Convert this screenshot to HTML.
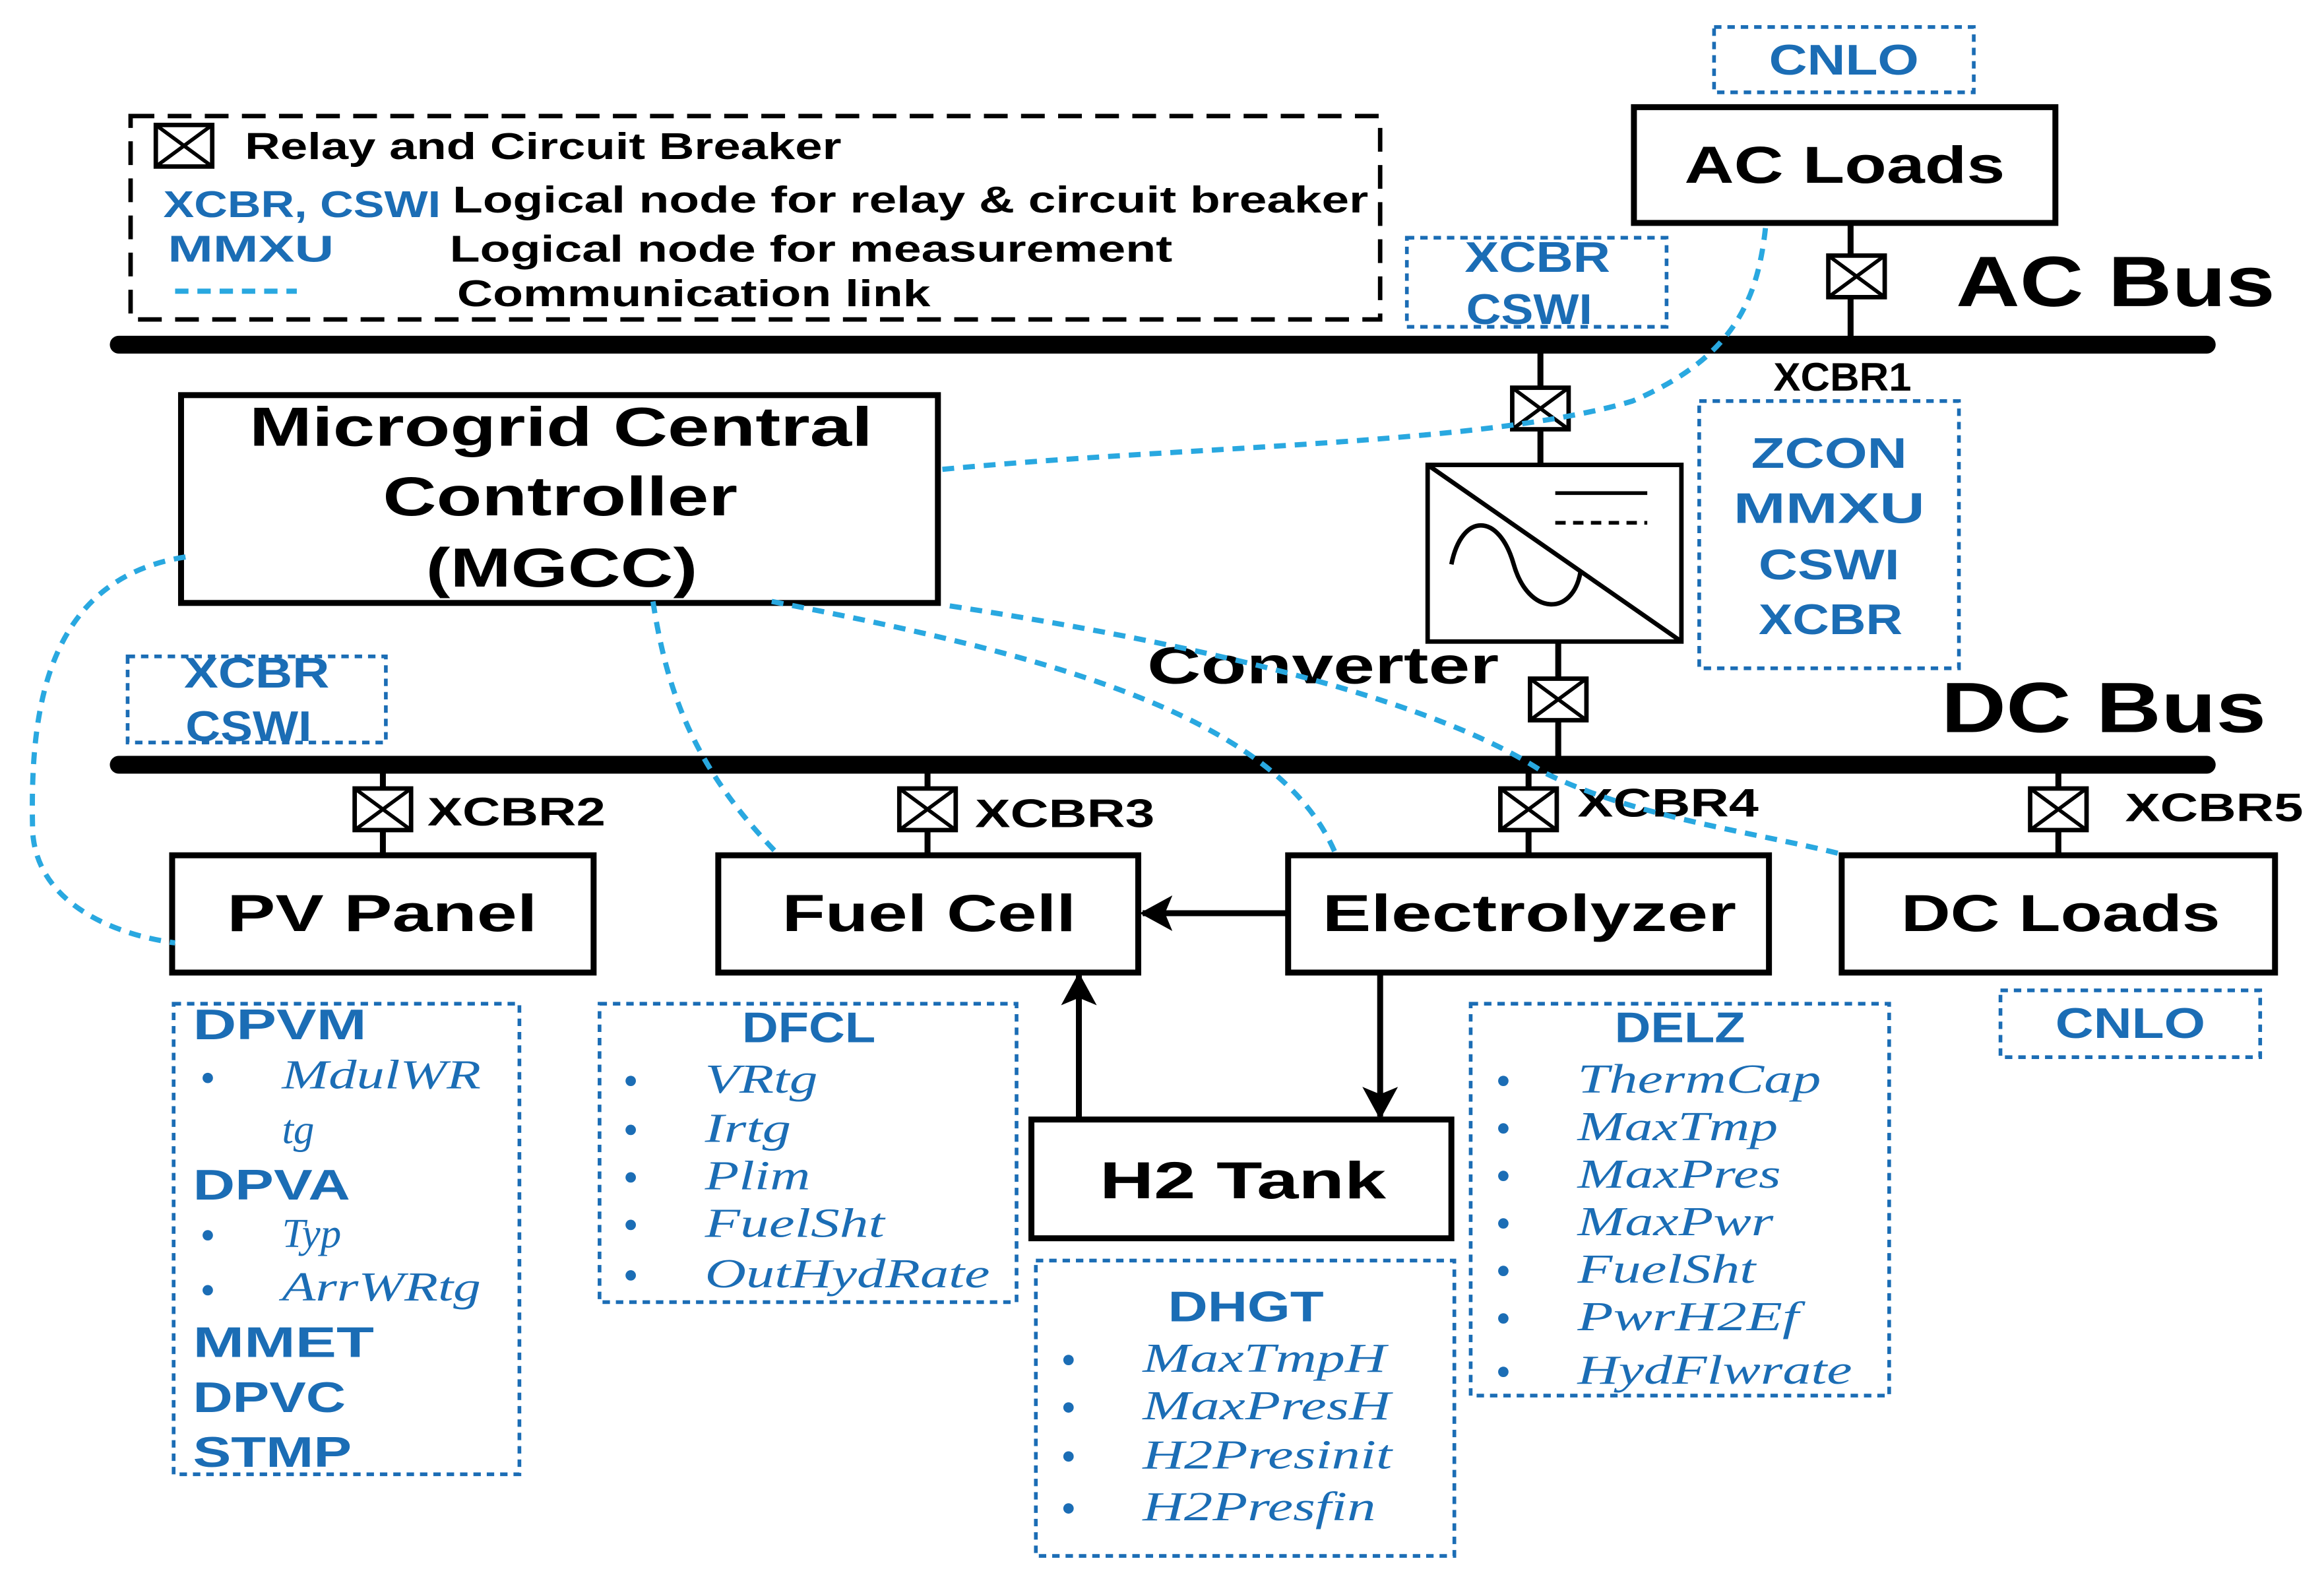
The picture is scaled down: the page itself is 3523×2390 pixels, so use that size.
<!DOCTYPE html>
<html><head><meta charset="utf-8"><style>
html,body{margin:0;padding:0;background:#fff;}
svg{display:block;}
text{font-family:"Liberation Sans",sans-serif;font-weight:bold;}
text.b,.b text{fill:#1b6db5;}
.it text{fill:#1b6db5;font-family:"Liberation Serif",serif;font-style:italic;font-weight:normal;}
</style></head><body>
<svg width="3523" height="2390" viewBox="0 0 1566 1062" xmlns="http://www.w3.org/2000/svg">
<defs>
<g id="brk"><rect x="-19" y="-14" width="38" height="28" fill="#fff" stroke="#000" stroke-width="3"/><path d="M-19 -14L19 14M19 -14L-19 14" stroke="#000" stroke-width="2.5"/></g>
<marker id="ah" markerWidth="22" markerHeight="24" refX="20" refY="12" orient="auto" markerUnits="userSpaceOnUse"><path d="M0 0L22 12L0 24L5 12Z"/></marker>
</defs>
<rect width="1566" height="1062" fill="#fff"/>
<!-- legend -->
<rect x="88" y="78" width="842" height="137" fill="none" stroke="#000" stroke-width="3" stroke-dasharray="16 9"/>
<use href="#brk" x="124" y="98"/>
<text x="165" y="107" font-size="25" textLength="402" lengthAdjust="spacingAndGlyphs">Relay and Circuit Breaker</text>
<text x="110" y="146" font-size="25" class="b" textLength="187" lengthAdjust="spacingAndGlyphs">XCBR, CSWI</text>
<text x="305" y="143" font-size="25" textLength="617" lengthAdjust="spacingAndGlyphs">Logical node for relay &amp; circuit breaker</text>
<text x="113" y="176" font-size="25" class="b" textLength="112" lengthAdjust="spacingAndGlyphs">MMXU</text>
<text x="303" y="176" font-size="25" textLength="487" lengthAdjust="spacingAndGlyphs">Logical node for measurement</text>
<line x1="118" y1="196" x2="200" y2="196" stroke="#29a8e0" stroke-width="3.5" stroke-dasharray="9 6"/>
<text x="308" y="206" font-size="25" textLength="319" lengthAdjust="spacingAndGlyphs">Communication link</text>
<!-- buses -->
<line x1="80" y1="232" x2="1487" y2="232" stroke="#000" stroke-width="12" stroke-linecap="round"/>
<line x1="80" y1="515" x2="1487" y2="515" stroke="#000" stroke-width="12" stroke-linecap="round"/>
<text x="1318" y="206" font-size="48" textLength="215" lengthAdjust="spacingAndGlyphs">AC Bus</text>
<text x="1308" y="493" font-size="48" textLength="219" lengthAdjust="spacingAndGlyphs">DC Bus</text>
<!-- dotted boxes -->
<g fill="none" stroke="#1b6db5" stroke-width="2.5" stroke-dasharray="5 4">
<rect x="1155" y="18" width="175" height="44"/>
<rect x="948" y="160" width="175" height="60"/>
<rect x="1145" y="270" width="175" height="180"/>
<rect x="86" y="442" width="174" height="58"/>
<rect x="1348" y="667" width="175" height="45"/>
<rect x="117" y="676" width="233" height="317"/>
<rect x="404" y="676" width="281" height="201"/>
<rect x="698" y="849" width="282" height="199"/>
<rect x="991" y="676" width="282" height="264"/>
</g>
<g class="b" font-size="29">
<text x="1192" y="50" textLength="101" lengthAdjust="spacingAndGlyphs">CNLO</text>
<text x="987" y="183" textLength="98" lengthAdjust="spacingAndGlyphs">XCBR</text>
<text x="988" y="218" textLength="85" lengthAdjust="spacingAndGlyphs">CSWI</text>
<text x="1180" y="315" textLength="105" lengthAdjust="spacingAndGlyphs">ZCON</text>
<text x="1168" y="352" textLength="129" lengthAdjust="spacingAndGlyphs">MMXU</text>
<text x="1185" y="390" textLength="95" lengthAdjust="spacingAndGlyphs">CSWI</text>
<text x="1185" y="427" textLength="97" lengthAdjust="spacingAndGlyphs">XCBR</text>
<text x="124" y="463" textLength="98" lengthAdjust="spacingAndGlyphs">XCBR</text>
<text x="125" y="499" textLength="85" lengthAdjust="spacingAndGlyphs">CSWI</text>
<text x="1385" y="699" textLength="101" lengthAdjust="spacingAndGlyphs">CNLO</text>
</g>
<!-- AC loads -->
<line x1="1247" y1="150" x2="1247" y2="232" stroke="#000" stroke-width="4"/>
<use href="#brk" x="1251" y="186"/>
<rect x="1101" y="72" width="284" height="78" fill="#fff" stroke="#000" stroke-width="4"/>
<text x="1135" y="123" font-size="35" textLength="216" lengthAdjust="spacingAndGlyphs">AC Loads</text>
<text x="1195" y="263" font-size="27" textLength="93" lengthAdjust="spacingAndGlyphs">XCBR1</text>
<!-- converter -->
<line x1="1038" y1="232" x2="1038" y2="315" stroke="#000" stroke-width="4"/>
<line x1="1050" y1="432" x2="1050" y2="515" stroke="#000" stroke-width="4"/>
<use href="#brk" x="1038" y="275"/>
<use href="#brk" x="1050" y="471"/>
<rect x="962" y="313" width="171" height="119" fill="#fff" stroke="#000" stroke-width="3"/>
<line x1="962" y1="313" x2="1133" y2="432" stroke="#000" stroke-width="3"/>
<line x1="1048" y1="332" x2="1110" y2="332" stroke="#000" stroke-width="2.5"/>
<line x1="1048" y1="352" x2="1110" y2="352" stroke="#000" stroke-width="2.5" stroke-dasharray="7 5"/>
<path d="M978 380 C 985 345, 1010 345, 1020 380 C 1030 415, 1060 415, 1065 385" fill="none" stroke="#000" stroke-width="3"/>
<text x="773" y="460" font-size="35" textLength="237" lengthAdjust="spacingAndGlyphs">Converter</text>
<!-- MGCC -->
<rect x="122" y="266" width="510" height="140" fill="#fff" stroke="#000" stroke-width="4"/>
<g font-size="37"><text x="168" y="300" textLength="420" lengthAdjust="spacingAndGlyphs">Microgrid Central</text><text x="258" y="347" textLength="239" lengthAdjust="spacingAndGlyphs">Controller</text><text x="287" y="395" textLength="183" lengthAdjust="spacingAndGlyphs">(MGCC)</text></g>
<!-- DC breakers -->
<g stroke="#000" stroke-width="4">
<line x1="258" y1="515" x2="258" y2="576"/><line x1="625" y1="515" x2="625" y2="576"/>
<line x1="1030" y1="515" x2="1030" y2="576"/><line x1="1387" y1="515" x2="1387" y2="576"/>
</g>
<use href="#brk" x="258" y="545"/><use href="#brk" x="625" y="545"/><use href="#brk" x="1030" y="545"/><use href="#brk" x="1387" y="545"/>
<g font-size="27"><text x="288" y="556" textLength="120" lengthAdjust="spacingAndGlyphs">XCBR2</text><text x="657" y="557" textLength="121" lengthAdjust="spacingAndGlyphs">XCBR3</text><text x="1063" y="550" textLength="122" lengthAdjust="spacingAndGlyphs">XCBR4</text><text x="1432" y="553" textLength="120" lengthAdjust="spacingAndGlyphs">XCBR5</text></g>
<!-- component boxes -->
<g fill="#fff" stroke="#000" stroke-width="4">
<rect x="116" y="576" width="284" height="79"/><rect x="484" y="576" width="283" height="79"/>
<rect x="868" y="576" width="324" height="79"/><rect x="1241" y="576" width="292" height="79"/>
<rect x="695" y="754" width="283" height="80"/>
</g>
<g font-size="35">
<text x="153" y="627" textLength="209" lengthAdjust="spacingAndGlyphs">PV Panel</text><text x="527" y="627" textLength="198" lengthAdjust="spacingAndGlyphs">Fuel Cell</text><text x="891" y="627" textLength="279" lengthAdjust="spacingAndGlyphs">Electrolyzer</text><text x="1281" y="627" textLength="215" lengthAdjust="spacingAndGlyphs">DC Loads</text><text x="741" y="807" textLength="193" lengthAdjust="spacingAndGlyphs">H2 Tank</text>
</g>
<g stroke="#000" stroke-width="4" marker-end="url(#ah)">
<line x1="868" y1="615" x2="770" y2="615"/>
<line x1="930" y1="655" x2="930" y2="752"/>
<line x1="727" y1="754" x2="727" y2="657"/>
</g>
<!-- comm links -->
<g fill="none" stroke="#29a8e0" stroke-width="3.5" stroke-dasharray="8 6">
<path d="M635 316 C 800 300, 1000 300, 1100 270 C 1170 240, 1185 200, 1190 150"/>
<path d="M125 375 C 30 390, 20 480, 22 560 C 25 610, 80 630, 118 635"/>
<path d="M440 405 C 450 470, 470 520, 525 576"/>
<path d="M520 405 C 700 440, 860 480, 900 575"/>
<path d="M640 408 C 850 440, 980 480, 1040 520 C 1100 550, 1180 560, 1240 575"/>
</g>
<!-- PV -->
<g class="b" font-size="29"><text x="130" y="700" textLength="117" lengthAdjust="spacingAndGlyphs">DPVM</text><text x="130" y="808" textLength="106" lengthAdjust="spacingAndGlyphs">DPVA</text><text x="130" y="914" textLength="122" lengthAdjust="spacingAndGlyphs">MMET</text><text x="130" y="951" textLength="103" lengthAdjust="spacingAndGlyphs">DPVC</text><text x="130" y="988" textLength="107" lengthAdjust="spacingAndGlyphs">STMP</text></g>
<g class="it" font-size="28"><text x="190" y="733" textLength="134" lengthAdjust="spacingAndGlyphs">MdulWR</text><text x="190" y="770">tg</text><text x="190" y="840">Typ</text><text x="190" y="876" textLength="134" lengthAdjust="spacingAndGlyphs">ArrWRtg</text></g>
<g fill="#1b6db5"><circle cx="140" cy="726" r="3.5"/><circle cx="140" cy="832" r="3.5"/><circle cx="140" cy="869" r="3.5"/></g>
<!-- DFCL -->
<text x="500" y="702" font-size="29" class="b" textLength="90" lengthAdjust="spacingAndGlyphs">DFCL</text>
<g class="it" font-size="28"><text x="475" y="736" textLength="76" lengthAdjust="spacingAndGlyphs">VRtg</text><text x="475" y="769" textLength="58" lengthAdjust="spacingAndGlyphs">Irtg</text><text x="475" y="801" textLength="71" lengthAdjust="spacingAndGlyphs">Plim</text><text x="475" y="833" textLength="121" lengthAdjust="spacingAndGlyphs">FuelSht</text><text x="475" y="867" textLength="192" lengthAdjust="spacingAndGlyphs">OutHydRate</text></g>
<g fill="#1b6db5"><circle cx="425" cy="728" r="3.5"/><circle cx="425" cy="761" r="3.5"/><circle cx="425" cy="793" r="3.5"/><circle cx="425" cy="825" r="3.5"/><circle cx="425" cy="859" r="3.5"/></g>
<!-- DHGT -->
<text x="787" y="890" font-size="29" class="b" textLength="105" lengthAdjust="spacingAndGlyphs">DHGT</text>
<g class="it" font-size="28"><text x="770" y="924" textLength="164" lengthAdjust="spacingAndGlyphs">MaxTmpH</text><text x="770" y="956" textLength="167" lengthAdjust="spacingAndGlyphs">MaxPresH</text><text x="770" y="989" textLength="168" lengthAdjust="spacingAndGlyphs">H2Presinit</text><text x="770" y="1024" textLength="157" lengthAdjust="spacingAndGlyphs">H2Presfin</text></g>
<g fill="#1b6db5"><circle cx="720" cy="916" r="3.5"/><circle cx="720" cy="948" r="3.5"/><circle cx="720" cy="981" r="3.5"/><circle cx="720" cy="1016" r="3.5"/></g>
<!-- DELZ -->
<text x="1088" y="702" font-size="29" class="b" textLength="88" lengthAdjust="spacingAndGlyphs">DELZ</text>
<g class="it" font-size="28"><text x="1063" y="736" textLength="164" lengthAdjust="spacingAndGlyphs">ThermCap</text><text x="1063" y="768" textLength="135" lengthAdjust="spacingAndGlyphs">MaxTmp</text><text x="1063" y="800" textLength="137" lengthAdjust="spacingAndGlyphs">MaxPres</text><text x="1063" y="832" textLength="132" lengthAdjust="spacingAndGlyphs">MaxPwr</text><text x="1063" y="864" textLength="120" lengthAdjust="spacingAndGlyphs">FuelSht</text><text x="1063" y="896" textLength="149" lengthAdjust="spacingAndGlyphs">PwrH2Ef</text><text x="1063" y="932" textLength="185" lengthAdjust="spacingAndGlyphs">HydFlwrate</text></g>
<g fill="#1b6db5"><circle cx="1013" cy="728" r="3.5"/><circle cx="1013" cy="760" r="3.5"/><circle cx="1013" cy="792" r="3.5"/><circle cx="1013" cy="824" r="3.5"/><circle cx="1013" cy="856" r="3.5"/><circle cx="1013" cy="888" r="3.5"/><circle cx="1013" cy="924" r="3.5"/></g>
</svg>
</body></html>
